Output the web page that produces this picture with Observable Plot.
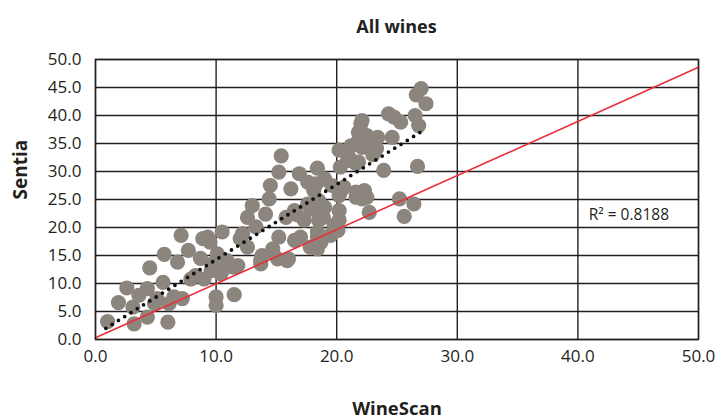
<!DOCTYPE html>
<html><head><meta charset="utf-8">
<script src="https://cdn.jsdelivr.net/npm/d3@7"></script>
<script src="https://cdn.jsdelivr.net/npm/@observablehq/plot@0.6"></script>
<style>
body{margin:0;background:#fff;font-family:"Open Sans",sans-serif;}
#title{height:45px;box-sizing:border-box;padding:15px 24px 0 95px;text-align:center;font-size:18px;font-weight:bold;line-height:22px;color:#231f20;}
#chart svg{display:block;}
</style>
</head><body>
<div id="title">All wines</div>
<div id="chart"></div>
<script>
const wineScan = [1.0,1.9,2.6,3.2,3.1,3.6,4.3,4.5,4.3,4.9,5.1,5.6,5.7,6.0,6.1,6.5,6.8,7.1,7.2,7.7,7.9,8.3,8.9,8.7,9.5,9.7,9.0,9.6,9.3,
10.0,10.0,11.5,10.5,10.1,10.9,11.5,10.4,10.0,10.8,11.8,12.0,12.2,12.6,12.6,13.0,13.3,13.7,13.7,14.1,14.4,14.5,14.7,15.1,13.8,14.7,
15.4,15.2,15.2,15.8,16.0,16.2,16.5,17.0,16.9,17.3,17.6,17.8,18.3,18.4,18.7,18.4,17.6,18.1,19.0,19.6,18.5,18.9,19.6,19.8,18.1,18.4,16.5,17.85,18.5,19.0,19.5,18.4,18.7,15.9,16.7,
20.2,20.3,20.9,21.6,20.6,20.2,21.6,22.3,22.5,22.7,23.9,21.8,22.1,21.8,22.5,23.4,24.3,24.75,24.6,25.2,25.6,27.0,26.6,27.4,25.3,26.5,26.8,26.7,26.4,22.0,22.8,22.1,21.0,21.8,20.3,21.6,22.1,20.2,20.2,20.1,23.3,21.2,23.0];
const sentia = [3.2,6.6,9.2,2.8,5.8,7.9,9.1,12.8,4.0,6.4,7.3,10.2,15.2,3.1,6.4,7.6,13.8,18.6,7.3,15.9,10.8,11.4,18.0,14.5,17.4,13.5,10.8,12.3,18.3,
7.6,6.1,8.0,19.2,15.3,14.1,12.9,11.7,12.3,12.9,13.2,18.0,18.9,16.5,21.8,23.9,20.1,13.5,14.1,22.4,25.1,27.5,15.6,14.4,15.0,16.2,
32.8,29.9,18.3,21.8,14.4,26.9,17.7,18.3,29.6,21.3,24.2,16.5,27.8,18.3,23.0,30.6,28.1,26.6,28.7,27.5,24.8,21.8,18.9,20.4,16.5,16.2,23.0,23.3,21.3,23.6,18.6,19.2,17.4,14.1,22.3,
33.8,30.8,32.0,31.4,27.2,25.7,25.4,26.6,25.4,22.7,30.2,35.5,39.1,37.0,36.4,36.1,40.3,39.7,36.1,25.1,22.0,44.8,43.7,42.1,38.8,40.0,38.2,30.9,24.2,38.5,35.8,34.3,32.6,31.7,26.3,26.3,25.1,23.0,21.3,19.5,34.1,34.6,33.0];
const refX = [0, 50];
const refY = [0.3, 48.6];
const trendX = [0.86, 27.3];
const trendY = [2.0, 37.5];
const xTicks = [0, 10, 20, 30, 40, 50];
const yTicks = [0, 5, 10, 15, 20, 25, 30, 35, 40, 45, 50];
const r2Label = "R\u00B2 = 0.8188";
const r2Pos = {x: 40.9, y: 22.2};

const wines = wineScan.map((x, i) => ({x, y: sentia[i]}));
const ref = refX.map((x, i) => ({x, y: refY[i]}));
const trend = trendX.map((x, i) => ({x, y: trendY[i]}));
const ink = "#231f20";
const fmt = d => d.toFixed(1);

const chart = Plot.plot({
  width: 722,
  height: 374,
  marginLeft: 95,
  marginRight: 24,
  marginTop: 14,
  marginBottom: 80,
  style: {fontFamily: "'Open Sans', sans-serif", color: ink, background: "#fff"},
  x: {domain: [0, 50]},
  y: {domain: [0, 50]},
  marks: [
    Plot.gridX(xTicks, {stroke: ink, strokeOpacity: 1, strokeWidth: 1.4}),
    Plot.gridY(yTicks, {stroke: ink, strokeOpacity: 1, strokeWidth: 1.4}),
    Plot.dot(wines, {x: "x", y: "y", r: 7.6, fill: "#8b857d", stroke: "none"}),
    Plot.line(ref, {x: "x", y: "y", stroke: "#ec2d3a", strokeWidth: 1.6}),
    Plot.line(trend, {x: "x", y: "y", stroke: "#111", strokeWidth: 3.8, strokeDasharray: "0,7.4", strokeLinecap: "round"}),
    Plot.frame({stroke: ink, strokeWidth: 1.4}),
    Plot.text([r2Label], {x: () => r2Pos.x, y: () => r2Pos.y, textAnchor: "start", fontSize: 15.5, fill: ink}),
    Plot.axisX(xTicks, {tickFormat: fmt, tickSize: 0, tickPadding: 10, fontSize: 17, label: null, fill: ink}),
    Plot.axisY(yTicks, {tickFormat: fmt, tickSize: 0, tickPadding: 14, fontSize: 17, label: null, fill: ink}),
    Plot.text(["WineScan"], {frameAnchor: "bottom", lineAnchor: "bottom", dy: 75, fontSize: 18.5, fontWeight: "bold", fill: ink}),
    Plot.text(["Sentia"], {frameAnchor: "left", rotate: -90, lineAnchor: "middle", dx: -75, fontSize: 19, fontWeight: "bold", fill: ink})
  ]
});
document.getElementById("chart").appendChild(chart);
</script>
</body></html>
